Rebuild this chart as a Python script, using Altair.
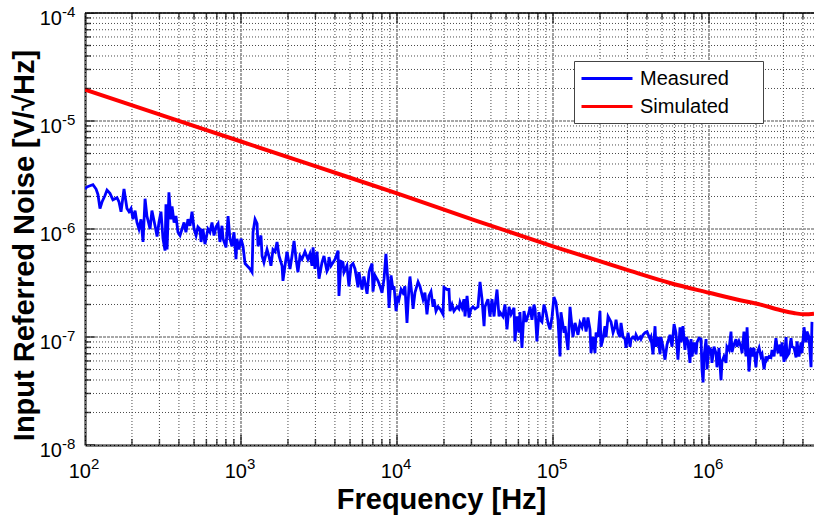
import altair as alt
import pandas as pd

# ---------------- data (log10 units) ----------------
meas_logf = [
 2.000,2.013,2.032,2.051,2.071,2.083,2.096,2.109,2.128,2.141,2.160,2.179,2.205,2.218,2.231,2.250,2.269,2.282,2.295,2.308,
 2.321,2.333,2.346,2.359,2.372,2.385,2.397,2.417,2.429,2.449,2.462,2.474,2.487,2.500,2.513,2.519,2.526,2.538,2.551,2.558,
 2.571,2.583,2.596,2.609,2.622,2.635,2.647,2.660,2.673,2.686,2.699,2.712,2.724,2.737,2.744,2.756,2.769,
 2.788,2.801,2.814,2.827,2.840,2.853,2.865,2.878,2.885,2.904,2.917,2.929,2.942,2.955,2.968,2.974,2.987,3.000,3.013,3.026,
 3.045,3.058,3.071,3.077,3.090,3.103,3.109,3.128,3.135,3.147,3.167,3.179,3.192,3.205,3.218,3.231,3.244,3.263,3.269,3.282,
 3.295,3.301,3.314,3.327,3.340,3.353,3.365,3.378,3.391,3.410,3.429,3.442,3.455,3.462,3.474,3.487,3.500,3.519,3.532,3.551,
 3.558,3.564,3.577,3.590,3.603,3.622,3.628,3.641,3.654,3.660,3.679,3.692,3.705,3.718,3.731,3.750,3.756,3.776,3.788,3.808,
 3.821,3.827,3.840,3.846,3.859,3.878,3.891,3.904,3.917,3.929,3.942,3.949,3.962,3.974,3.981,3.994,4.006,4.013,4.026,4.038,
 4.051,4.064,4.077,4.083,4.096,4.103,4.115,4.135,4.147,4.167,4.179,4.192,4.205,4.218,4.231,4.237,4.250,4.263,4.276,4.295,
 4.301,4.321,
 4.333,4.340,4.353,4.365,4.385,4.397,4.404,4.417,4.429,4.436,4.449,4.462,4.474,4.487,4.500,4.519,4.532,4.545,4.558,4.564,
 4.583,4.596,4.609,4.622,4.628,4.641,4.654,4.660,4.679,4.692,4.705,4.718,4.731,4.750,4.756,4.769,4.782,4.788,4.801,4.814,
 4.827,4.846,4.853,4.865,4.878,4.885,4.897,4.910,4.917,4.929,4.942,4.955,4.968,4.981,4.994,5.006,5.019,5.032,5.045,5.051,
 5.071,5.077,5.096,
 5.109,5.115,5.128,5.141,5.147,5.160,5.173,5.186,5.199,5.212,5.224,5.237,5.244,5.256,5.269,5.276,5.288,5.301,5.308,5.321,
 5.333,5.340,5.353,5.372,5.385,5.397,5.404,5.417,5.429,5.436,5.449,5.462,5.468,5.481,5.494,5.500,5.513,5.526,5.532,5.545,
 5.558,5.564,5.577,5.590,5.603,5.622,5.628,5.641,5.654,5.660,5.673,5.686,5.692,5.705,5.718,5.731,5.750,5.763,5.776,5.788,
 5.801,5.814,5.821,5.833,5.846,5.853,5.865,5.878,
 5.885,5.891,5.904,5.917,5.923,5.936,5.949,5.955,5.962,5.968,5.981,5.987,6.000,6.013,6.019,6.032,6.045,6.051,6.064,6.077,
 6.083,6.096,6.109,6.115,6.128,6.141,6.147,6.160,6.173,6.179,6.192,6.205,6.212,6.224,6.237,6.244,6.256,6.269,6.276,6.288,
 6.301,6.308,6.321,6.333,6.340,6.353,6.365,6.372,6.385,6.397,6.404,6.417,6.429,6.442,6.455,6.462,6.468,6.481,6.494,6.500,
 6.513,6.526,6.532,6.545,6.558,6.564,6.577,6.590,6.596,6.609,6.622,6.628,6.641,6.654,6.660,
]
meas_logv = [
 -5.63,-5.61,-5.60,-5.59,-5.63,-5.68,-5.81,-5.75,-5.69,-5.64,-5.67,-5.73,-5.71,-5.75,-5.84,-5.63,-5.81,-5.84,-5.81,-5.91,
 -5.83,-5.94,-6.00,-5.91,-6.12,-5.72,-5.88,-6.00,-5.83,-5.97,-6.07,-5.94,-5.84,-6.09,-6.20,-5.77,-6.19,-5.66,-5.91,-5.79,
 -5.94,-5.88,-6.03,-6.06,-6.00,-5.94,-6.03,-5.91,-5.97,-5.84,-6.00,-6.06,-5.98,-6.00,-6.12,-6.00,-6.14,
 -6.00,-6.03,-5.94,-6.06,-5.98,-5.95,-6.12,-5.97,-6.09,-6.17,-5.88,-6.09,-6.16,-6.03,-6.28,-6.09,-6.19,-6.09,-6.16,-6.32,
 -6.35,-6.37,-6.40,-6.03,-5.91,-5.95,-6.16,-6.06,-6.25,-6.31,-6.19,-6.25,-6.34,-6.19,-6.21,-6.12,-6.25,-6.34,-6.48,-6.34,
 -6.21,-6.26,-6.37,-6.25,-6.11,-6.28,-6.40,-6.25,-6.28,-6.21,-6.28,-6.23,-6.34,-6.17,-6.37,-6.21,-6.46,-6.31,-6.25,-6.39,
 -6.37,-6.26,-6.34,-6.31,-6.28,-6.20,-6.62,-6.30,-6.31,-6.40,-6.34,-6.53,-6.34,-6.32,-6.37,-6.54,-6.40,-6.56,-6.44,-6.60,
 -6.40,-6.37,-6.32,-6.58,-6.43,-6.48,-6.53,-6.59,-6.46,-6.23,-6.49,-6.73,-6.43,-6.56,-6.53,-6.76,-6.62,-6.65,-6.56,-6.59,
 -6.53,-6.87,-6.53,-6.44,-6.62,-6.74,-6.59,-6.49,-6.53,-6.65,-6.59,-6.79,-6.62,-6.58,-6.72,-6.65,-6.76,-6.72,-6.74,-6.79,
 -6.54,-6.56,
 -6.56,-6.76,-6.70,-6.76,-6.72,-6.74,-6.68,-6.73,-6.65,-6.81,-6.62,-6.82,-6.74,-6.72,-6.74,-6.72,-6.49,-6.65,-6.90,-6.72,
 -6.65,-6.81,-6.65,-6.81,-6.72,-6.56,-6.81,-6.77,-6.81,-6.70,-6.93,-6.72,-6.79,-6.73,-7.04,-6.81,-6.96,-6.77,-7.10,-6.76,
 -6.86,-6.77,-6.72,-6.84,-6.70,-6.74,-7.04,-6.77,-6.84,-6.86,-6.70,-6.77,-6.87,-6.93,-6.81,-6.63,-6.68,-6.84,-7.18,-6.77,
 -6.96,-6.90,-7.12,
 -6.72,-6.81,-7.00,-6.87,-6.90,-6.98,-6.87,-6.91,-6.82,-6.95,-6.82,-6.93,-7.15,-7.00,-7.15,-6.96,-7.00,-6.76,-7.09,-7.01,
 -6.90,-7.00,-6.81,-6.86,-6.96,-6.91,-6.84,-6.96,-7.00,-6.87,-7.00,-7.02,-7.10,-6.96,-7.09,-7.02,-7.00,-7.02,-6.98,-7.02,
 -7.00,-7.02,-6.98,-6.96,-6.95,-7.02,-7.00,-7.16,-6.90,-7.09,-7.00,-7.16,-7.00,-7.09,-7.21,-7.07,-6.98,-7.09,-6.88,-6.96,
 -7.21,-6.91,-7.05,-6.90,-7.12,-7.00,-7.04,-7.24,
 -7.02,-7.18,-7.05,-7.16,-7.05,-7.01,-7.02,-7.30,-7.42,-7.18,-7.02,-7.30,-7.10,-7.12,-7.24,-7.09,-7.15,-7.28,-7.10,-7.40,
 -7.23,-7.18,-7.24,-7.09,-7.12,-6.95,-7.14,-7.07,-7.02,-7.09,-7.04,-7.09,-7.15,-6.95,-7.18,-6.91,-7.32,-7.10,-7.18,-7.10,
 -7.28,-7.15,-7.10,-7.18,-7.16,-7.30,-7.18,-7.21,-7.18,-7.19,-7.12,-7.18,-7.01,-7.15,-7.07,-7.18,-7.05,-7.23,-7.00,-7.18,
 -7.15,-7.01,-7.09,-7.10,-7.19,-7.04,-7.18,-7.05,-7.15,-6.91,-7.05,-6.95,-7.00,-7.28,-6.86,
]
sim_logf = [2.0, 2.5, 3.0, 3.5, 4.0, 4.5, 5.0, 5.5, 5.75, 6.0, 6.2, 6.33, 6.455, 6.55, 6.615, 6.673]
sim_logv = [-4.71, -4.95, -5.19, -5.43, -5.67, -5.92, -6.16, -6.39, -6.50, -6.59, -6.66, -6.70, -6.75, -6.78, -6.79, -6.785]

series_names = ["Measured", "Simulated"]
series_colors = ["#0000ff", "#ff0000"]

x_major = [1e2, 1e3, 1e4, 1e5, 1e6]
x_exp = ["2", "3", "4", "5", "6"]
y_major = [1e-8, 1e-7, 1e-6, 1e-5, 1e-4]
y_exp = ["-8", "-7", "-6", "-5", "-4"]
tick_base = "10"
mantissas = [2, 3, 4, 5, 6, 7, 8, 9]

X_MIN, X_MAX = 100, 4.71e6
Y_MIN, Y_MAX = 1e-8, 1e-4
FONT = "Liberation Sans"

x_minor = [m * d for d in x_major for m in mantissas if m * d < X_MAX]
y_minor = [m * d for d in y_major[:-1] for m in mantissas]

meas_df = pd.DataFrame({
    "freq": [10 ** v for v in meas_logf],
    "noise": [10 ** v for v in meas_logv],
    "series": [series_names[0]] * len(meas_logf),
})
sim_df = pd.DataFrame({
    "freq": [10 ** v for v in sim_logf],
    "noise": [10 ** v for v in sim_logv],
    "series": [series_names[1]] * len(sim_logf),
})

xs = alt.Scale(type="log", domain=[X_MIN, X_MAX], nice=False)
ys = alt.Scale(type="log", domain=[Y_MIN, Y_MAX], nice=False)

x_axis = alt.Axis(
    title="Frequency [Hz]", labels=False, ticks=False, grid=False,
    domainColor="black", domainWidth=2,
    titleFont=FONT, titleFontSize=29, titleFontWeight="bold", titleColor="black",
    titleBaseline="alphabetic", titleY=63, titleX=356)
y_axis = alt.Axis(
    title="Input Referred Noise [V/\u221aHz]", labels=False, ticks=False, grid=False,
    domainColor="black", domainWidth=2,
    titleFont=FONT, titleFontSize=29, titleFontWeight="bold", titleColor="black",
    titleBaseline="alphabetic", titleX=-52, titleY=232)

xmaj_df = pd.DataFrame({"v": x_major, "e": x_exp, "b": [tick_base] * len(x_major)})
ymaj_df = pd.DataFrame({"v": y_major, "e": y_exp, "b": [tick_base] * len(y_major)})
xmin_df = pd.DataFrame({"v": x_minor})
ymin_df = pd.DataFrame({"v": y_minor})

def gx(field="v:Q"):
    return alt.X(field, scale=xs, axis=x_axis)

def gy(field="v:Q"):
    return alt.Y(field, scale=ys, axis=y_axis)

def dx_(val):
    return alt.XDatum(val, scale=xs, axis=x_axis)

def dy_(val):
    return alt.YDatum(val, scale=ys, axis=y_axis)

grid_minor_x = alt.Chart(xmin_df).mark_rule(color="#4a4a4a", strokeWidth=1, strokeDash=[1, 2]).encode(x=gx())
grid_minor_y = alt.Chart(ymin_df).mark_rule(color="#4a4a4a", strokeWidth=1, strokeDash=[1, 2]).encode(y=gy())
grid_major_x = alt.Chart(xmaj_df).mark_rule(color="#8a8a8a", strokeWidth=1.6, strokeDash=[3, 1]).encode(x=gx())
grid_major_y = alt.Chart(ymaj_df).mark_rule(color="#8a8a8a", strokeWidth=1.6, strokeDash=[3, 1]).encode(y=gy())

color_enc = alt.Color(
    "series:N", scale=alt.Scale(domain=series_names, range=series_colors),
    legend=alt.Legend(orient="none", legendX=489, legendY=48,
                      title="\u2003", titleOrient="right", titlePadding=28, titleFontSize=20,
                      symbolType="M-1,0H4.1", symbolSize=400, symbolStrokeWidth=3,
                      labelFont=FONT, labelFontSize=20, labelColor="black",
                      labelOffset=37, padding=6, rowPadding=6,
                      strokeColor="#444444", fillColor="white"))

meas_line = alt.Chart(meas_df).mark_line(clip=True, strokeWidth=2.8).encode(
    x=alt.X("freq:Q", scale=xs, axis=x_axis),
    y=alt.Y("noise:Q", scale=ys, axis=y_axis),
    color=color_enc)
sim_line = alt.Chart(sim_df).mark_line(clip=True, strokeWidth=4, interpolate="monotone").encode(
    x=alt.X("freq:Q", scale=xs, axis=x_axis),
    y=alt.Y("noise:Q", scale=ys, axis=y_axis),
    color=color_enc)

top_border = alt.Chart(ymaj_df).transform_filter(alt.datum.v == Y_MAX).mark_rule(
    color="black", strokeWidth=1.5).encode(y=gy())

def xticks(d, yval, size):
    return alt.Chart(d).mark_tick(orient="vertical", clip=True, color="black", thickness=1.5, size=size).encode(
        x=gx(), y=dy_(yval))

def yticks(d, size):
    return alt.Chart(d).mark_tick(orient="horizontal", clip=True, color="black", thickness=1.5, size=size).encode(
        y=gy(), x=dx_(X_MIN))

ticks = [xticks(xmaj_df, Y_MIN, 20), xticks(xmin_df, Y_MIN, 12),
         xticks(xmaj_df, Y_MAX, 20), xticks(xmin_df, Y_MAX, 12),
         yticks(ymaj_df, 20), yticks(ymin_df, 12)]

xlab_base = alt.Chart(xmaj_df).mark_text(align="right", baseline="alphabetic", dx=6, dy=33,
                                         fontSize=20, font=FONT, color="black").encode(
    x=gx(), y=dy_(Y_MIN), text="b:N")
xlab_exp = alt.Chart(xmaj_df).mark_text(align="left", baseline="alphabetic", dx=6, dy=24,
                                        fontSize=15, font=FONT, color="black").encode(
    x=gx(), y=dy_(Y_MIN), text="e:N")
ylab_base = alt.Chart(ymaj_df).mark_text(align="right", baseline="alphabetic", dx=-23, dy=12,
                                         fontSize=20, font=FONT, color="black").encode(
    y=gy(), x=dx_(X_MIN), text="b:N")
ylab_exp = alt.Chart(ymaj_df).mark_text(align="left", baseline="alphabetic", dx=-23, dy=4,
                                        fontSize=15, font=FONT, color="black").encode(
    y=gy(), x=dx_(X_MIN), text="e:N")

chart = alt.layer(
    grid_minor_x, grid_minor_y, grid_major_x, grid_major_y,
    meas_line, sim_line, top_border, *ticks, xlab_base, xlab_exp, ylab_base, ylab_exp,
).properties(
    width=729, height=432,
    autosize=alt.AutoSizeParams(type="none"),
    padding={"left": 85, "top": 13, "right": 0, "bottom": 79},
    background="white",
).configure_view(stroke=None)

chart.save("out.html", embed_options={"renderer": "svg", "actions": False})
